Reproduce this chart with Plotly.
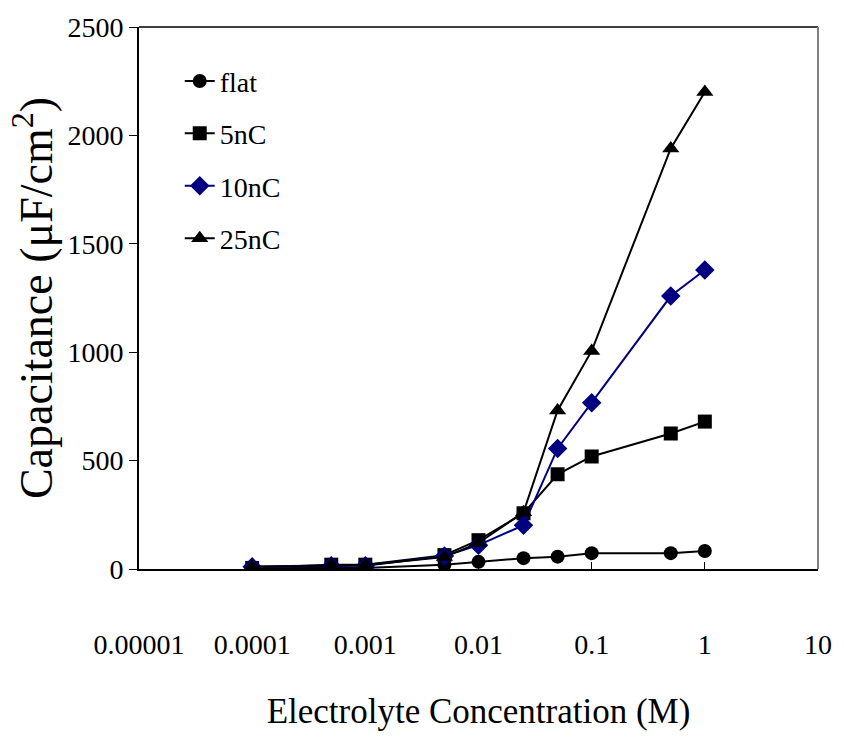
import plotly.graph_objects as go

conc = [0.0001, 0.0005, 0.001, 0.005, 0.01, 0.025, 0.05, 0.1, 0.5, 1]
flat = [5, 5, 5, 20, 33, 50, 57, 73, 73, 83]
nc5 = [5, 20, 20, 64, 133, 257, 437, 519, 625, 680]
nc10 = [10, 15, 15, 60, 110, 202, 556, 767, 1259, 1379]
nc25 = [12, 18, 18, 55, 120, 262, 731, 1006, 1940, 2200]

x_tickvals = [0.00001, 0.0001, 0.001, 0.01, 0.1, 1, 10]
x_ticktext = ["0.00001", "0.0001", "0.001", "0.01", "0.1", "1", "10"]
y_tickvals = [0, 500, 1000, 1500, 2000, 2500]

FONT = "Liberation Serif, Times New Roman, serif"

series = [
    ("flat", flat, "black", "circle", 14),
    ("5nC", nc5, "black", "square", 14),
    ("10nC", nc10, "#000080", "diamond", 15),
    ("25nC", nc25, "black", "triangle-up", 15),
]

fig = go.Figure()
for i, (name, ys, col, sym, sz) in enumerate(series):
    fig.add_trace(go.Scatter(
        x=conc, y=ys, name=name, mode="lines+markers",
        line=dict(color=col, width=2),
        marker=dict(symbol=sym, size=sz, color=col),
        legendgroup=f"g{i}",
    ))

fig.update_layout(
    width=844, height=744,
    margin=dict(l=139, r=25, t=25, b=175),
    paper_bgcolor="white", plot_bgcolor="white",
    font=dict(family=FONT, color="black", size=28),
    showlegend=True,
    legend=dict(x=0.06, y=0.946, xanchor="left", yanchor="top",
                bgcolor="rgba(0,0,0,0)", font=dict(size=28, family=FONT),
                tracegroupgap=13, itemwidth=30),
    xaxis=dict(
        type="log", range=[-5, 1],
        tickvals=x_tickvals, ticktext=x_ticktext,
        ticks="inside", ticklen=7, tickcolor="black",
        showgrid=False, zeroline=False,
        showline=True, linecolor="black", linewidth=2, mirror=False,
        ticklabelstandoff=49,
        tickfont=dict(size=28, family=FONT),
        title=dict(text="Electrolyte Concentration (M)", font=dict(size=35, family=FONT), standoff=40),
    ),
    yaxis=dict(
        range=[0, 2500], tickvals=y_tickvals,
        ticks="outside", ticklen=8, tickcolor="black",
        showgrid=False, zeroline=False,
        showline=True, linecolor="black", linewidth=2,
        tickfont=dict(size=28, family=FONT),
        title=dict(text="Capacitance (μF/cm<sup>2</sup>)", font=dict(size=46, family=FONT), standoff=0),
    ),
    shapes=[
        dict(type="line", xref="paper", yref="paper", x0=0, x1=1, y0=1, y1=1,
             line=dict(color="#404040", width=2)),
        dict(type="line", xref="paper", yref="paper", x0=1, x1=1, y0=0, y1=1,
             line=dict(color="#808080", width=2)),
    ],
)

fig.write_html("out.html")
